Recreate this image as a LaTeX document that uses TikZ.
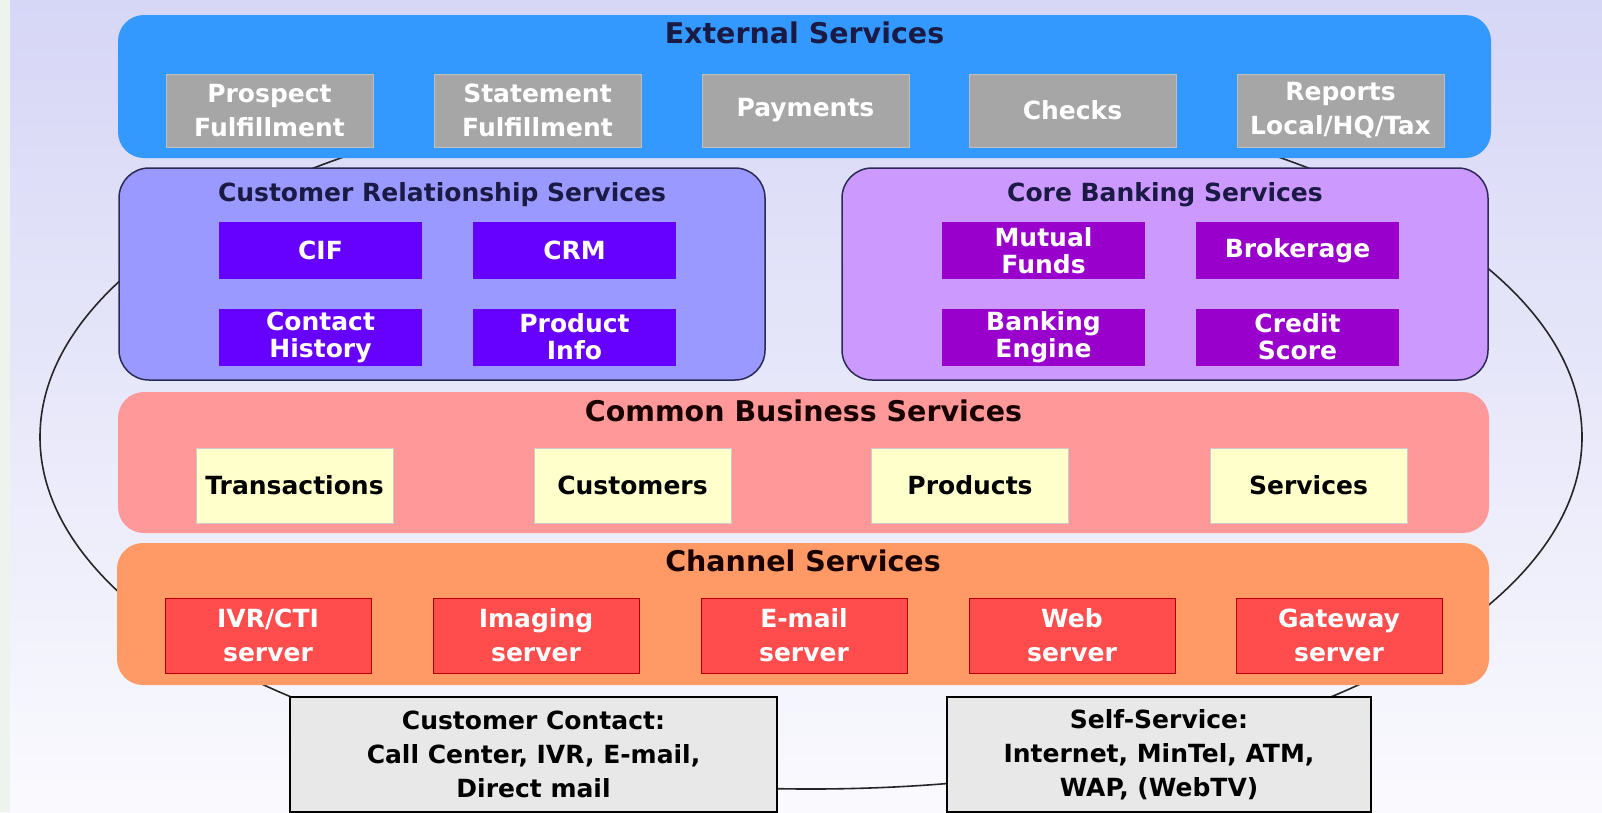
\documentclass[tikz,border=0pt]{standalone}
\usepackage{fontspec}
\setmainfont{DejaVu Sans}
\usepackage{tikz}
\usetikzlibrary{positioning}
\definecolor{bgtop}{HTML}{D6D6F6}
\definecolor{bgbot}{HTML}{FAFAFE}
\definecolor{bgedge}{HTML}{EEF3EE}
\definecolor{extblue}{HTML}{3399FF}
\definecolor{greybox}{HTML}{A6A6A6}
\definecolor{crsfill}{HTML}{9999FF}
\definecolor{crsbox}{HTML}{6600FF}
\definecolor{corefill}{HTML}{CC99FF}
\definecolor{corebox}{HTML}{9900CC}
\definecolor{cbsfill}{HTML}{FF9999}
\definecolor{cbsbox}{HTML}{FFFFCC}
\definecolor{chanfill}{HTML}{FF9966}
\definecolor{chanbox}{HTML}{FF4D4D}
\definecolor{contactfill}{HTML}{E8E8E8}
\definecolor{navytext}{HTML}{1A1A45}
\definecolor{edgeline}{HTML}{2B2B55}
\newcommand\bandfont{\fontsize{28.5}{34}\selectfont\bfseries}
\newcommand\svcfont{\fontsize{25}{34}\selectfont\bfseries}
\newcommand\tightfont{\fontsize{25}{27}\selectfont\bfseries}
\tikzset{
    ring/.style={draw=black!85, line width=1.6pt},
    band/.style={rounded corners=26pt, inner sep=0pt, draw=none},
    group/.style={rounded corners=30pt, inner sep=0pt, draw=edgeline,
        line width=1.5pt, minimum width=646, minimum height=212},
    bandtitle/.style={font=\bandfont, inner sep=0pt},
    subtitle/.style={font=\svcfont, text=navytext, inner sep=0pt},
    greysvc/.style={fill=greybox, draw=black!25, line width=0.8pt, text=white,
        font=\svcfont, align=center, inner sep=0pt,
        minimum width=207, minimum height=73},
    crssvc/.style={fill=crsbox, text=white, font=\tightfont, align=center,
        inner sep=0pt, minimum width=203, minimum height=57},
    coresvc/.style={crssvc, fill=corebox},
    cbssvc/.style={fill=cbsbox, draw=black!20, line width=0.6pt, font=\svcfont,
        align=center, inner sep=0pt, minimum width=197, minimum height=75},
    chansvc/.style={fill=chanbox, draw=red!70!black, line width=0.6pt,
        text=white, font=\svcfont, align=center, inner sep=0pt,
        minimum width=206, minimum height=75},
    contact/.style={fill=contactfill, draw=black, line width=1.5pt,
        font=\svcfont, align=center, inner sep=0pt, minimum height=115},
}

\begin{document}
\begin{tikzpicture}[x=1pt, y=-1pt, line width=1.2pt]
\useasboundingbox (0,0) rectangle (1602,812);
% backdrop
\shade[top color=bgtop, bottom color=bgbot] (0,0) rectangle (1602,812);
\fill[bgedge] (0,0) rectangle (10,812);
% ring behind the layers
\coordinate (hub) at (811,437);
\draw[ring] (hub) ellipse [x radius=771, y radius=352];
% external services
\node[band, fill=extblue, minimum width=1373, minimum height=143] (ext) at (804.5,86.5) {};
\node[bandtitle, text=navytext] (exttitle) at (804.5,33) {External Services};
\node[greysvc] (prospect) at (269.5,110.5) {Prospect\\Fulfillment};
\node[greysvc] (statement) at (537.5,110.5) {Statement\\Fulfillment};
\node[greysvc] (payments) at (805.5,110.5) {Payments};
\node[greysvc] (checks) at (1072.5,110.5) {Checks};
\node[greysvc] (reports) at (1340.5,110.5) {Reports\\Local/HQ/Tax};
% customer relationship services
\node[group, fill=crsfill] (crs) at (442,274) {};
\node[subtitle] (crstitle) at (442,195) {Customer Relationship Services};
\node[crssvc] (cif) at (320.5,250.5) {CIF};
\node[crssvc] (crm) at (574.5,250.5) {CRM};
\node[crssvc] (history) at (320.5,337) {Contact\\History};
\node[crssvc] (prodinfo) at (574.5,337) {Product\\Info};
% core banking services
\node[group, fill=corefill] (core) at (1165,274) {};
\node[subtitle] (coretitle) at (1165,195) {Core Banking Services};
\node[coresvc] (funds) at (1043.5,250.5) {Mutual\\Funds};
\node[coresvc] (brokerage) at (1297.5,250.5) {Brokerage};
\node[coresvc] (engine) at (1043.5,337) {Banking\\Engine};
\node[coresvc] (credit) at (1297.5,337) {Credit\\Score};
% common business services
\node[band, fill=cbsfill, minimum width=1371, minimum height=141] (cbs) at (803.5,462.5) {};
\node[bandtitle, text=black!90!red] (cbstitle) at (803.5,411) {Common Business Services};
\node[cbssvc] (transactions) at (294.5,485.5) {Transactions};
\node[cbssvc] (customers) at (632.5,485.5) {Customers};
\node[cbssvc] (products) at (970,485.5) {Products};
\node[cbssvc] (services) at (1308.5,485.5) {Services};
% channel services
\node[band, fill=chanfill, minimum width=1372, minimum height=142] (chan) at (803,614) {};
\node[bandtitle, text=black!90!red] (chantitle) at (803,561) {Channel Services};
\node[chansvc] (ivr) at (268,635.5) {IVR/CTI\\server};
\node[chansvc] (imaging) at (536,635.5) {Imaging\\server};
\node[chansvc] (email) at (804,635.5) {E-mail\\server};
\node[chansvc] (web) at (1072,635.5) {Web\\server};
\node[chansvc] (gateway) at (1339,635.5) {Gateway\\server};
% access points
\node[contact, minimum width=487] (custcontact) at (533.5,754.5) {Customer Contact:\\Call Center, IVR, E-mail,\\Direct mail};
\node[contact, minimum width=424] (selfservice) at (1159,754.5) {Self-Service:\\Internet, MinTel, ATM,\\WAP, (WebTV)};
\end{tikzpicture}
\end{document}
